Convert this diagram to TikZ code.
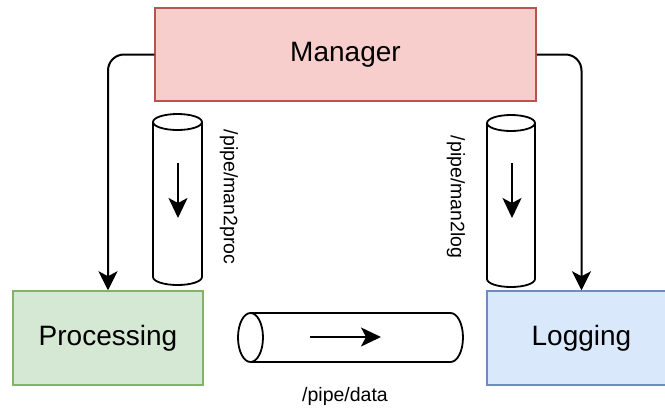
\documentclass[tikz,border=0pt]{standalone}
\usepackage{fontspec}
\setmainfont{Liberation Sans}
\usetikzlibrary{arrows.meta}
\definecolor{mgrfill}{HTML}{F8CECC}
\definecolor{mgrdraw}{HTML}{B85450}
\definecolor{procfill}{HTML}{D5E8D4}
\definecolor{procdraw}{HTML}{82B366}
\definecolor{logfill}{HTML}{DAE8FC}
\definecolor{logdraw}{HTML}{6C8EBF}
\tikzset{
  box/.style={draw, line width=1.5pt, inner sep=0pt, font=\fontsize{28}{34}\selectfont},
  conn/.style={line width=2pt, rounded corners=16pt, -{Stealth[length=19pt,width=19pt,inset=5pt]}},
  pipe/.style={line width=1.8pt, fill=white},
  flow/.style={line width=2pt, -{Stealth[length=20pt,width=19pt,inset=5pt]}},
  lbl/.style={font=\fontsize{19.5}{24}\selectfont, inner sep=0pt}
}
\begin{document}
\begin{tikzpicture}[x=1pt,y=-1pt]
\useasboundingbox (0,0) rectangle (665,408);
% boxes
\node[box, fill=mgrfill, draw=mgrdraw, minimum width=381pt, minimum height=93pt] (mgr) at (345.5,54.5) {Manager};
\node[box, fill=procfill, draw=procdraw, minimum width=190pt, minimum height=94pt] (proc) at (108,338) {Processing};
\node[box, fill=logfill, draw=logdraw, minimum width=189pt, minimum height=94pt] (log) at (581.5,338) {Logging};
% connectors
\draw[conn] (mgr.west) -| (proc.north);
\draw[conn] (mgr.east) -| (log.north);
% left vertical pipe
\draw[pipe] (153,122) -- (153,277) .. controls (153,281.42) and (163.97,285) .. (177.5,285)
  .. controls (191.03,285) and (202,281.42) .. (202,277) -- (202,122);
\draw[pipe] (177.5,122) ellipse [x radius=24.5, y radius=8];
\coordinate (a1s) at (178,163);
\coordinate (a1e) at (178,218);
\draw[flow] (a1s) -- (a1e);
\node[lbl, rotate=-90] (l1) at (229,197) {/pipe/man2proc};
% right vertical pipe
\draw[pipe] (487,123) -- (487,279) .. controls (487,283.42) and (497.74,287) .. (511,287)
  .. controls (524.26,287) and (535,283.42) .. (535,279) -- (535,123);
\draw[pipe] (511,123) ellipse [x radius=24, y radius=8];
\coordinate (a2s) at (512,163);
\coordinate (a2e) at (512,218);
\draw[flow] (a2s) -- (a2e);
\node[lbl, rotate=-90] (l2) at (456,197) {/pipe/man2log};
% horizontal pipe
\draw[pipe] (250.5,313) -- (450.5,313) .. controls (457.4,313) and (463,323.97) .. (463,337.5)
  .. controls (463,351.03) and (457.4,362) .. (450.5,362) -- (250.5,362);
\draw[pipe] (250.5,337.5) ellipse [x radius=12.5, y radius=24.5];
\coordinate (a3s) at (310,337);
\coordinate (a3e) at (381,337);
\draw[flow] (a3s) -- (a3e);
\node[lbl] (l3) at (345,396) {/pipe/data};
\end{tikzpicture}
\end{document}
